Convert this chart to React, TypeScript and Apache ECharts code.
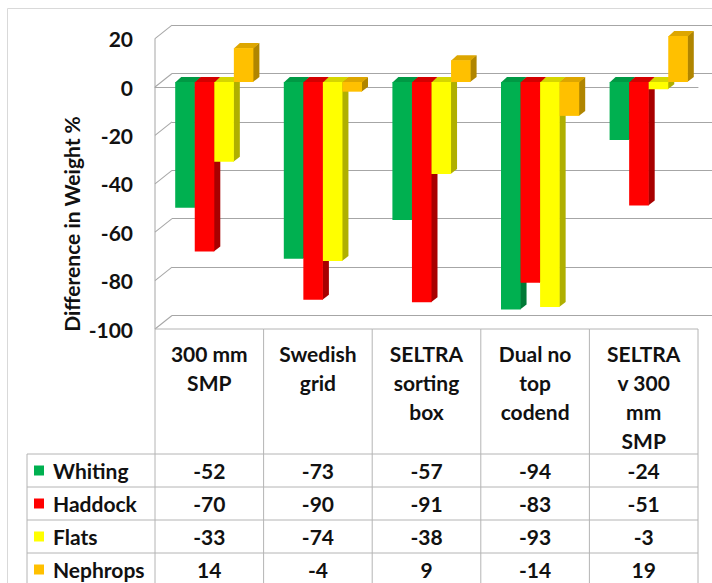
import React, { useEffect, useRef } from 'react';
import * as echarts from 'echarts';

const categories = ['300 mm\nSMP', 'Swedish\ngrid', 'SELTRA\nsorting\nbox', 'Dual no\ntop\ncodend', 'SELTRA\nv 300\nmm\nSMP'];
const seriesNames = ['Whiting', 'Haddock', 'Flats', 'Nephrops'];
const whiting = [-52, -73, -57, -94, -24];
const haddock = [-70, -90, -91, -83, -51];
const flats = [-33, -74, -38, -93, -3];
const nephrops = [14, -4, 9, -14, 19];
const yTicks = [20, 0, -20, -40, -60, -80, -100];
const yTitle = 'Difference in Weight %';

const allSeries = [whiting, haddock, flats, nephrops];
const frontColors = ['#00B050', '#FF0000', '#FFFF00', '#FFC000'];
const topColors = ['#009944', '#D40000', '#D6D600', '#DDA600'];
const sideColors = ['#007A36', '#A80000', '#AFAF00', '#B08500'];

const FONT = 'Lato, "Open Sans", sans-serif';
const FS = 21;
const TXT = '#111111';
const GRID_COLOR = '#A6A6A6';
const TABLE_COLOR = '#B4B4B4';
const BORDER_COLOR = '#D9D9D9';
const DX = 6;
const DY = 5;

function strip(x1: number, y1: number, x2: number, y2: number, color: string, w = 1) {
  const dx = x2 - x1;
  const dy = y2 - y1;
  const len = Math.sqrt(dx * dx + dy * dy) || 1;
  const nx = (-dy / len) * (w / 2);
  const ny = (dx / len) * (w / 2);
  return {
    type: 'polygon',
    shape: { points: [[x1 + nx, y1 + ny], [x2 + nx, y2 + ny], [x2 - nx, y2 - ny], [x1 - nx, y1 - ny]] },
    style: { fill: color },
  };
}

function wallChildren(api: any) {
  const band = api.size([1, 0])[0];
  const L = api.coord([0, 0])[0] - 5 - band / 2;
  const yTopFront = api.coord([0, 20])[1] + 5;
  const yBotFront = api.coord([0, -100])[1] + 5;
  const children: any[] = [];
  children.push(strip(7.5, 8.5, 7.5, 600, BORDER_COLOR));
  children.push(strip(7.5, 8.5, 720, 8.5, BORDER_COLOR));
  yTicks.forEach((v) => {
    const y = api.coord([0, v])[1];
    children.push(strip(L, y + 5, L + 17, y - 8.5, GRID_COLOR));
  });
  children.push(strip(L, yTopFront, L, yBotFront, GRID_COLOR));
  return children;
}

function barRenderer(s: number) {
  return (params: any, api: any) => {
    const ci = api.value(0);
    const v = api.value(1);
    const base = api.coord([ci, 0]);
    const tip = api.coord([ci, v]);
    const band = api.size([1, 0])[0];
    const bw = band * 0.18;
    const x0 = base[0] - 2 * bw + s * bw;
    const x1 = x0 + bw;
    const yA = Math.min(base[1], tip[1]);
    const yB = Math.max(base[1], tip[1]);
    const bar = [
      {
        type: 'polygon',
        shape: { points: [[x1 - 0.5, yA], [x1 + DX, yA - DY], [x1 + DX, yB - DY], [x1 - 0.5, yB]] },
        style: { fill: sideColors[s] },
      },
      {
        type: 'polygon',
        shape: { points: [[x0, yA + 0.5], [x0 + DX, yA - DY], [x1 + DX, yA - DY], [x1, yA + 0.5]] },
        style: { fill: topColors[s] },
      },
      {
        type: 'rect',
        shape: { x: x0, y: yA, width: bw, height: yB - yA },
        style: { fill: frontColors[s] },
      },
    ];
    const children = s === 0 && params.dataIndex === 0 ? [...wallChildren(api), ...bar] : bar;
    return { type: 'group', children };
  };
}

export default function App() {
  const ref = useRef<HTMLDivElement>(null);
  useEffect(() => {
    const chart = echarts.init(ref.current!, null, { renderer: 'svg' });

    const tableRenderer = (params: any, api: any) => {
      const i = params.dataIndex;
      const p = api.coord([i, -100]);
      const band = api.size([1, 0])[0];
      const cx = p[0] - 5;
      const L = cx - band / 2;
      const R = cx + band / 2;
      const top = p[1] + 5;
      const hdrBottom = top + 125;
      const rowH = 33;
      const bottom = 600;
      const children: any[] = [];
      const line = (x1: number, y1: number, x2: number, y2: number) => ({
        type: 'line',
        shape: { x1, y1, x2, y2 },
        style: { stroke: TABLE_COLOR, lineWidth: 1 },
      });
      children.push(line(L, top, L, bottom));
      if (i === categories.length - 1) children.push(line(R, top, R, bottom));
      children.push(line(L, top, R, top));
      for (let k = 0; k < 4; k++) children.push(line(L, hdrBottom + k * rowH, R, hdrBottom + k * rowH));
      categories[i].split('\n').forEach((t, k) => {
        children.push({
          type: 'text',
          x: cx,
          y: top + 24 + k * 29,
          style: { text: t, fill: TXT, fontSize: FS, fontWeight: 'bold', fontFamily: FONT, align: 'center', verticalAlign: 'middle' },
        });
      });
      allSeries.forEach((arr, r) => {
        children.push({
          type: 'text',
          x: cx,
          y: hdrBottom + r * rowH + 16.5,
          style: { text: String(arr[i]), fill: TXT, fontSize: FS, fontWeight: 'bold', fontFamily: FONT, align: 'center', verticalAlign: 'middle' },
        });
      });
      if (i === 0) {
        yTicks.forEach((v) => {
          children.push({
            type: 'text',
            x: 133,
            y: api.coord([0, v])[1] + 5,
            style: { text: String(v), fill: TXT, fontSize: FS, fontWeight: 'bold', fontFamily: FONT, align: 'right', verticalAlign: 'middle' },
          });
        });
        const LL = 27;
        children.push(line(LL, hdrBottom, LL, bottom));
        for (let k = 0; k < 4; k++) children.push(line(LL, hdrBottom + k * rowH, L, hdrBottom + k * rowH));
        seriesNames.forEach((name, r) => {
          const yc = hdrBottom + r * rowH + 16.5;
          children.push({ type: 'rect', shape: { x: 34, y: yc - 5, width: 10, height: 10 }, style: { fill: frontColors[r] } });
          children.push({
            type: 'text',
            x: 53,
            y: yc,
            style: { text: name, fill: TXT, fontSize: FS, fontWeight: 'bold', fontFamily: FONT, align: 'left', verticalAlign: 'middle' },
          });
        });
      }
      return { type: 'group', children };
    };

    const hiddenValueAxis = (gridIndex: number, showSplit: boolean) => ({
      type: 'value',
      gridIndex,
      min: -100,
      max: 20,
      interval: 20,
      axisLine: { show: false },
      axisTick: { show: false },
      axisLabel: { show: false },
      splitLine: { show: showSplit, lineStyle: { color: GRID_COLOR, width: 1 } },
    });

    const option: any = {
      animation: false,
      backgroundColor: '#ffffff',
      grid: [
        { left: 160, top: 33.6, width: 543, height: 290.4 },
        { left: 172, top: 25.1, width: 545, height: 290.4 },
        { left: 155, top: 38.6, width: 543, height: 290.4 },
      ],
      xAxis: [
        { type: 'category', gridIndex: 0, data: categories, show: false },
        { type: 'category', gridIndex: 1, data: categories, axisLine: { show: false }, axisTick: { show: false }, axisLabel: { show: false } },
        {
          type: 'category',
          gridIndex: 2,
          data: categories,
          axisLine: { show: true, onZero: true, lineStyle: { color: GRID_COLOR, width: 1 } },
          axisTick: { show: false },
          axisLabel: { show: false },
        },
      ],
      yAxis: [hiddenValueAxis(0, false), hiddenValueAxis(1, true), hiddenValueAxis(2, false)],
      graphic: [
        {
          type: 'text',
          x: 71,
          y: 224,
          rotation: Math.PI / 2,
          style: { text: yTitle, fill: TXT, fontSize: 21, fontWeight: 'bold', fontFamily: FONT, align: 'center', verticalAlign: 'middle' },
        },
      ],
      series: [
        ...allSeries.map((arr, s) => ({
          type: 'custom',
          name: seriesNames[s],
          renderItem: barRenderer(s),
          data: arr.map((v, i) => [i, v]),
          xAxisIndex: 0,
          yAxisIndex: 0,
          clip: false,
          z: 3 + s,
        })),
        {
          type: 'custom',
          name: 'table',
          renderItem: tableRenderer,
          data: categories.map((_, i) => [i, -100]),
          xAxisIndex: 0,
          yAxisIndex: 0,
          clip: false,
          z: 10,
          silent: true,
        },
      ],
    };
    chart.setOption(option);
    return () => chart.dispose();
  }, []);
  return (
    <div
      ref={ref}
      style={{ position: 'fixed', left: 0, top: 0, width: 712, height: 583, background: '#fff' }}
    />
  );
}
